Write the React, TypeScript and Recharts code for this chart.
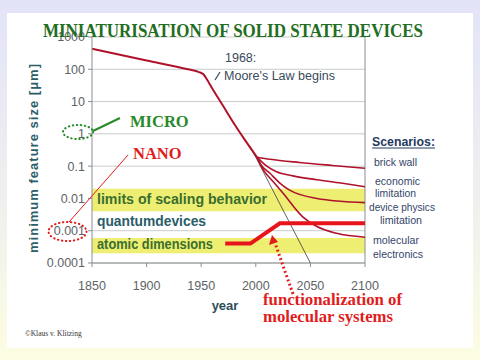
import {
  CartesianGrid,
  ComposedChart,
  Line,
  ReferenceArea,
  ReferenceLine,
  XAxis,
  YAxis,
} from 'recharts';

// x axis: year, y axis: minimum feature size in micrometres (log scale)
const yearTicks = [1850, 1900, 1950, 2000, 2050, 2100];
const sizeTicks = [0.0001, 0.001, 0.01, 0.1, 1, 10, 100, 1000];

const historic = [
  { year: 1850, size: 430 },
  { year: 1900, size: 187 },
  { year: 1938, size: 100 },
  { year: 1948, size: 82 },
  { year: 1952, size: 70 },
  { year: 1955, size: 50 },
  { year: 1960, size: 26 },
  { year: 1970, size: 7.4 },
  { year: 1980, size: 2.1 },
  { year: 1990, size: 0.65 },
  { year: 2001, size: 0.19 },
];

const brickWall = [
  { year: 2001, size: 0.19 },
  { year: 2013, size: 0.164 },
  { year: 2040, size: 0.13 },
  { year: 2070, size: 0.105 },
  { year: 2100, size: 0.086 },
];

const economic = [
  { year: 2001, size: 0.19 },
  { year: 2010, size: 0.1 },
  { year: 2019, size: 0.067 },
  { year: 2034, size: 0.05 },
  { year: 2056, size: 0.038 },
  { year: 2078, size: 0.03 },
  { year: 2100, size: 0.023 },
];

const devicePhysics = [
  { year: 2001, size: 0.19 },
  { year: 2004, size: 0.12 },
  { year: 2013, size: 0.06 },
  { year: 2022, size: 0.03 },
  { year: 2031, size: 0.018 },
  { year: 2056, size: 0.01 },
  { year: 2100, size: 0.0074 },
];

const molecular = [
  { year: 2001, size: 0.19 },
  { year: 2007, size: 0.075 },
  { year: 2016, size: 0.033 },
  { year: 2025, size: 0.0145 },
  { year: 2043, size: 0.0027 },
  { year: 2056, size: 0.00135 },
  { year: 2074, size: 0.00083 },
  { year: 2100, size: 0.00063 },
];

const mooreExtrapolation = [
  { year: 1995, size: 0.4 },
  { year: 2050, size: 0.0001 },
];

const functionalization = [
  { year: 1972, size: 0.0004 },
  { year: 1995, size: 0.0004 },
  { year: 2022, size: 0.0017 },
  { year: 2100, size: 0.0017 },
];

const scalingLimits = [0.004, 0.02];
const atomicLimits = [0.0002, 0.0006];

const CURVE = '#b0122c';
const SANS = 'Liberation Sans, Arial, sans-serif';
const SERIF = 'Liberation Serif, Times New Roman, serif';
const SCEN = '#34466a';

export default function App() {
  return (
    <div
      style={{
        position: 'fixed',
        left: 0,
        top: 0,
        width: 480,
        height: 360,
        overflow: 'hidden',
        background: 'linear-gradient(#e3e3f9, #eef0ee 55%, #fdfde2)',
      }}
    >
      <div style={{ position: 'absolute', left: 7, top: 13, width: 466, height: 335, background: '#ffffff' }} />
      <div style={{ position: 'absolute', left: 0, top: 0 }}>
        <ComposedChart width={480} height={360} margin={{ top: 37, right: 115, bottom: 67, left: 32 }}>
          <ReferenceArea y1={scalingLimits[0]} y2={scalingLimits[1]} fill="#eeee72" fillOpacity={1} stroke="none" />
          <ReferenceArea y1={atomicLimits[0]} y2={atomicLimits[1]} fill="#eeee72" fillOpacity={1} stroke="none" />
          <CartesianGrid vertical={false} stroke="#c9cccc" />
          <XAxis
            dataKey="year"
            type="number"
            domain={[1850, 2100]}
            ticks={yearTicks}
            allowDuplicatedCategory={false}
            tick={{ fill: '#5d6366', fontSize: 12.5, fontFamily: SANS }}
            tickSize={4}
            tickMargin={14}
            stroke="#8a8f90"
          />
          <YAxis
            dataKey="size"
            type="number"
            scale="log"
            domain={[0.0001, 1000]}
            allowDataOverflow
            ticks={sizeTicks}
            tickFormatter={(v) => String(v)}
            tick={{ fill: '#5d6366', fontSize: 12.5, fontFamily: SANS }}
            tickSize={4}
            tickMargin={3}
            stroke="#8a8f90"
          />
          <ReferenceLine x={2100} stroke="#8a8f90" />
          <Line data={mooreExtrapolation} dataKey="size" type="linear" stroke="#3a3a3a" strokeWidth={0.8} dot={false} isAnimationActive={false} />
          <Line data={historic} dataKey="size" type="monotone" stroke={CURVE} strokeWidth={2} dot={false} isAnimationActive={false} />
          <Line data={brickWall} dataKey="size" type="monotone" stroke={CURVE} strokeWidth={1.6} dot={false} isAnimationActive={false} />
          <Line data={economic} dataKey="size" type="monotone" stroke={CURVE} strokeWidth={1.6} dot={false} isAnimationActive={false} />
          <Line data={devicePhysics} dataKey="size" type="monotone" stroke={CURVE} strokeWidth={1.6} dot={false} isAnimationActive={false} />
          <Line data={molecular} dataKey="size" type="monotone" stroke={CURVE} strokeWidth={1.6} dot={false} isAnimationActive={false} />
          <Line data={functionalization} dataKey="size" type="linear" stroke="#e8141c" strokeWidth={4} dot={false} isAnimationActive={false} />
        </ComposedChart>
      </div>
      <svg width={480} height={360} style={{ position: 'absolute', left: 0, top: 0, pointerEvents: 'none' }}>
        <text x={43} y={37} textLength={380} lengthAdjust="spacingAndGlyphs" fontFamily={SERIF} fontWeight="bold" fontSize={19} fill="#1f6e22">
          MINIATURISATION OF SOLID STATE DEVICES
        </text>

        <text transform="translate(38,158) rotate(-90)" textAnchor="middle" fontFamily={SANS} fontWeight="bold" fontSize={12.5} letterSpacing={1} fill="#2d5d66" textLength={190} lengthAdjust="spacingAndGlyphs">
          minimum feature size [μm]
        </text>
        <text x={225} y={310} textAnchor="middle" fontFamily={SANS} fontWeight="bold" fontSize={13} fill="#2b4d5a">year</text>

        <text x={225} y={62} fontFamily={SANS} fontSize={12.5} fill="#3a4a5a">1968:</text>
        <line x1={215} y1={80} x2={220} y2={72} stroke="#3a4a5a" strokeWidth={1.2} />
        <text x={224} y={80} fontFamily={SANS} fontSize={12.5} fill="#3a4a5a" textLength={111} lengthAdjust="spacingAndGlyphs">Moore's Law begins</text>

        <ellipse cx={78} cy={132} rx={15} ry={7} fill="none" stroke="#2a8a2a" strokeWidth={2} strokeDasharray="0.5 3.5" strokeLinecap="round" />
        <line x1={93} y1={131} x2={120} y2={118} stroke="#2a8a2a" strokeWidth={2} />
        <text x={130} y={127} fontFamily={SERIF} fontWeight="bold" fontSize={16.5} fill="#2a8a2a">MICRO</text>

        <ellipse cx={67.5} cy={231.5} rx={19} ry={9.5} fill="none" stroke="#e01c1c" strokeWidth={2} strokeDasharray="0.5 3.5" strokeLinecap="round" />
        <line x1={128} y1={155} x2={69} y2={222} stroke="#e01c1c" strokeWidth={1} />
        <text x={133} y={159} fontFamily={SERIF} fontWeight="bold" fontSize={16.5} fill="#e01c1c">NANO</text>

        <text x={97} y={204} fontFamily={SANS} fontWeight="bold" fontSize={14} fill="#3a6e30" textLength={170} lengthAdjust="spacingAndGlyphs">limits of scaling behavior</text>
        <text x={97} y={226} fontFamily={SANS} fontWeight="bold" fontSize={14} fill="#2a5c6a" textLength={109} lengthAdjust="spacingAndGlyphs">quantumdevices</text>
        <text x={97} y={249} fontFamily={SANS} fontWeight="bold" fontSize={14} fill="#3a6e30" textLength={116} lengthAdjust="spacingAndGlyphs">atomic dimensions</text>

        <text x={372} y={146} fontFamily={SANS} fontWeight="bold" fontSize={13.5} fill="#1e3a5f" textLength={63} lengthAdjust="spacingAndGlyphs">Scenarios:</text>
        <line x1={372} y1={148} x2={435} y2={148} stroke="#1e3a5f" strokeWidth={1} />
        <text x={374} y={166} fontFamily={SANS} fontSize={11} fill={SCEN} textLength={43} lengthAdjust="spacingAndGlyphs">brick wall</text>
        <text x={375} y={185} fontFamily={SANS} fontSize={11} fill={SCEN} textLength={45} lengthAdjust="spacingAndGlyphs">economic</text>
        <text x={375} y={197} fontFamily={SANS} fontSize={11} fill={SCEN} textLength={41} lengthAdjust="spacingAndGlyphs">limitation</text>
        <text x={369} y={211} fontFamily={SANS} fontSize={11} fill={SCEN} textLength={66} lengthAdjust="spacingAndGlyphs">device physics</text>
        <text x={380} y={224} fontFamily={SANS} fontSize={11} fill={SCEN} textLength={42} lengthAdjust="spacingAndGlyphs">limitation</text>
        <text x={373} y={244} fontFamily={SANS} fontSize={11} fill={SCEN} textLength={46} lengthAdjust="spacingAndGlyphs">molecular</text>
        <text x={373} y={258} fontFamily={SANS} fontSize={11} fill={SCEN} textLength={50} lengthAdjust="spacingAndGlyphs">electronics</text>

        <line x1={293} y1={294} x2={275} y2={243} stroke="#e01c1c" strokeWidth={3} strokeDasharray="2 2.5" />
        <polygon points="272,235 269,245 278,242" fill="#e01c1c" />
        <text x={263} y={305} fontFamily={SERIF} fontWeight="bold" fontSize={16} fill="#e01c1c" textLength={139} lengthAdjust="spacingAndGlyphs">functionalization of</text>
        <text x={263} y={322} fontFamily={SERIF} fontWeight="bold" fontSize={16} fill="#e01c1c" textLength={130} lengthAdjust="spacingAndGlyphs">molecular systems</text>

        <text x={25} y={336} fontFamily={SERIF} fontSize={7.5} fill="#333">©Klaus v. Klitzing</text>
      </svg>
    </div>
  );
}
